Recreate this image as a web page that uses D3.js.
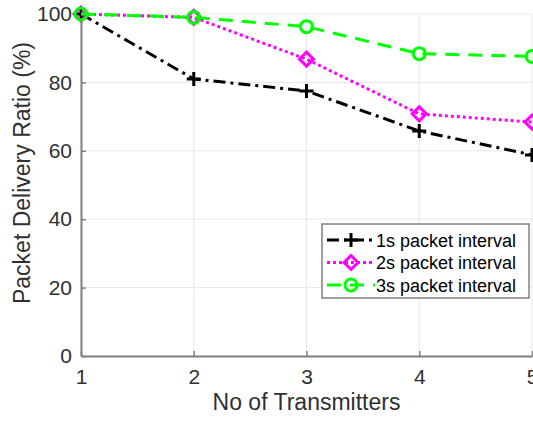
<!DOCTYPE html>
<html>
<head>
<meta charset="utf-8">
<script src="https://cdn.jsdelivr.net/npm/d3@7"></script>
<style>
  body { margin: 0; background: #fff; }
  svg { font-family: "Liberation Sans", Arial, sans-serif; }
</style>
</head>
<body>
<svg id="chart" width="533" height="421"></svg>
<script>
// chart data
const transmitters = [1, 2, 3, 4, 5];
const pdr1s = [100, 81, 77.5, 65.8, 58.8];
const pdr2s = [100, 99, 86.8, 70.8, 68.4];
const pdr3s = [100, 99, 96.3, 88.4, 87.6];
const yTicks = [0, 20, 40, 60, 80, 100];
const seriesNames = ["1s packet interval", "2s packet interval", "3s packet interval"];

const svg = d3.select("#chart");
const margin = { left: 81, right: 1, top: 14, bottom: 65 };
const width = +svg.attr("width");
const height = +svg.attr("height");

const x = d3.scaleLinear().domain([1, 5]).range([margin.left, width - margin.right]);
const y = d3.scaleLinear().domain([0, 100]).range([height - margin.bottom, margin.top]);

// grid
const grid = svg.append("g").attr("stroke", "#e6e6e6").attr("stroke-width", 1);
grid.selectAll("line.v").data(transmitters).enter().append("line")
  .attr("x1", d => x(d)).attr("x2", d => x(d))
  .attr("y1", y(0)).attr("y2", y(100));
grid.selectAll("line.h").data(yTicks).enter().append("line")
  .attr("x1", x(1)).attr("x2", x(5))
  .attr("y1", d => y(d)).attr("y2", d => y(d));

// axes
const xAxis = svg.append("g")
  .attr("transform", `translate(0,${y(0)})`)
  .call(d3.axisBottom(x).tickValues(transmitters).tickFormat(d3.format("d")).tickSizeInner(-5).tickSizeOuter(0).tickPadding(13));
const yAxis = svg.append("g")
  .attr("transform", `translate(${x(1)},0)`)
  .call(d3.axisLeft(y).tickValues(yTicks).tickSizeInner(-5).tickSizeOuter(0).tickPadding(9));

[xAxis, yAxis].forEach(ax => {
  ax.select(".domain").attr("stroke", "#808080").attr("stroke-width", 2);
  ax.selectAll(".tick line").attr("stroke", "#808080").attr("stroke-width", 1.5);
  ax.selectAll(".tick text").attr("fill", "#303030").attr("font-size", 21).attr("font-family", "Liberation Sans, Arial, sans-serif");
});

svg.append("text")
  .attr("x", (x(1) + x(5)) / 2).attr("y", 410)
  .attr("text-anchor", "middle").attr("fill", "#303030").attr("font-size", 23)
  .text("No of Transmitters");
svg.append("text")
  .attr("transform", "translate(30,173) rotate(-90)")
  .attr("text-anchor", "middle").attr("fill", "#303030").attr("font-size", 23)
  .text("Packet Delivery Ratio (%)");

const series = [
  { name: seriesNames[0], values: pdr1s, color: "#000000", dash: "12,5,3,5", marker: "plus" },
  { name: seriesNames[1], values: pdr2s, color: "#ff00ff", dash: "3,3", marker: "diamond" },
  { name: seriesNames[2], values: pdr3s, color: "#00ff00", dash: "14,9", marker: "circle" }
];

const line = d3.line().x((d, i) => x(transmitters[i])).y(d => y(d));

function drawMarker(g, type, cx, cy, color) {
  if (type === "plus") {
    g.append("path").attr("d", `M${cx - 7},${cy}H${cx + 7}M${cx},${cy - 7}V${cy + 7}`)
      .attr("stroke", color).attr("stroke-width", 3).attr("fill", "none");
  } else if (type === "diamond") {
    g.append("path").attr("d", `M${cx},${cy - 7}L${cx + 7},${cy}L${cx},${cy + 7}L${cx - 7},${cy}Z`)
      .attr("stroke", color).attr("stroke-width", 3).attr("fill", "none");
  } else {
    g.append("circle").attr("cx", cx).attr("cy", cy).attr("r", 6)
      .attr("stroke", color).attr("stroke-width", 3).attr("fill", "none");
  }
}

const plot = svg.append("g");
series.forEach(s => {
  plot.append("path").datum(s.values)
    .attr("d", line).attr("fill", "none")
    .attr("stroke", s.color).attr("stroke-width", 3)
    .attr("stroke-dasharray", s.dash);
  const mg = plot.append("g");
  s.values.forEach((v, i) => drawMarker(mg, s.marker, x(transmitters[i]), y(v), s.color));
});

// legend
const legend = svg.append("g").attr("transform", "translate(322,224)");
legend.append("rect").attr("width", 207).attr("height", 74)
  .attr("fill", "#fff").attr("stroke", "#808080").attr("stroke-width", 1.5);
series.forEach((s, i) => {
  const ly = 16 + i * 22.5;
  legend.append("line").attr("x1", 5).attr("x2", 53).attr("y1", ly).attr("y2", ly)
    .attr("stroke", s.color).attr("stroke-width", 3).attr("stroke-dasharray", s.dash);
  drawMarker(legend, s.marker, 29, ly, s.color);
  legend.append("text").attr("x", 54).attr("y", ly + 6.5)
    .attr("fill", "#000").attr("font-size", 18).text(s.name);
});
</script>
</body>
</html>
